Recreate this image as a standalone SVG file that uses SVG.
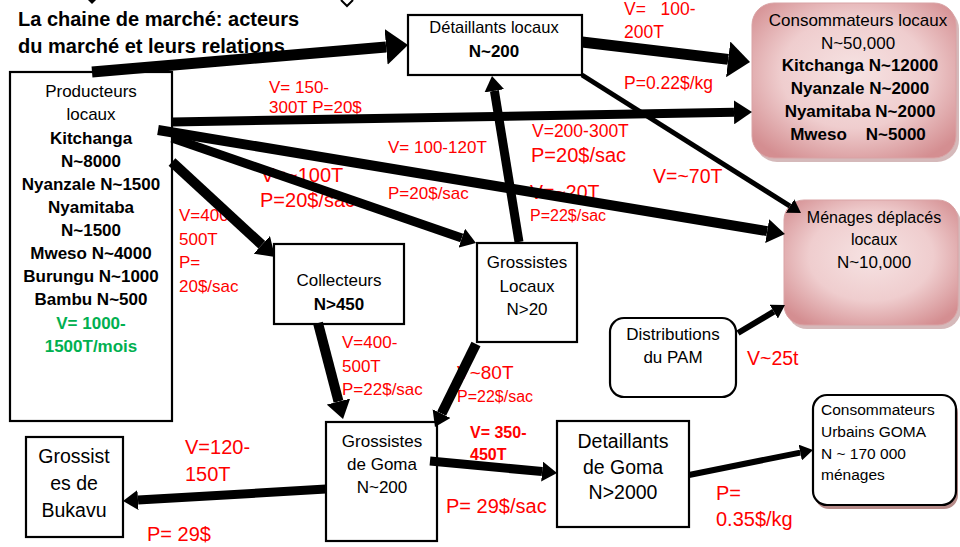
<svg xmlns="http://www.w3.org/2000/svg" width="960" height="547" viewBox="0 0 960 547">
<style>
text{font-family:"Liberation Sans",Arial,sans-serif;fill:#000}
.box{fill:#fff;stroke:#000;stroke-width:2.2}
.pink{stroke:#d9a3a5;stroke-width:1}
.shadow{fill:#b98a8c;opacity:.6}
.c{text-anchor:middle}
.b{font-weight:bold}
.r{fill:#ff0000}
.g{fill:#00b050;font-weight:bold}
.ln{fill:none;stroke:#000;stroke-linecap:butt}
</style>
<defs>
<radialGradient id="pg" cx="50%" cy="45%" r="65%">
<stop offset="0" stop-color="#f6e3e3"/>
<stop offset="0.55" stop-color="#efcdce"/>
<stop offset="1" stop-color="#d48e91"/>
</radialGradient>
<marker id="aBig" markerUnits="userSpaceOnUse" viewBox="0 -18 22 36" markerWidth="22" markerHeight="36" refX="0" refY="0" orient="auto"><path d="M0,-18L22,0L0,18Z" fill="#000"/></marker>
<marker id="aMed" markerUnits="userSpaceOnUse" viewBox="0 -12 18 24" markerWidth="18" markerHeight="24" refX="0" refY="0" orient="auto"><path d="M0,-12L18,0L0,12Z" fill="#000"/></marker>
<marker id="aSm" markerUnits="userSpaceOnUse" viewBox="0 -10 15 20" markerWidth="15" markerHeight="20" refX="0" refY="0" orient="auto"><path d="M0,-10L15,0L0,10Z" fill="#000"/></marker>
<marker id="aTiny" markerUnits="userSpaceOnUse" viewBox="0 -8 13 16" markerWidth="13" markerHeight="16" refX="0" refY="0" orient="auto"><path d="M0,-8L13,0L0,8Z" fill="#000"/></marker>
</defs>
<rect width="960" height="547" fill="#fff"/>

<!-- cut-off arrowheads at the top edge -->
<path d="M88,0L96,0L92,4Z" fill="#000"/>
<path d="M341,0L347,6L353,0" fill="none" stroke="#000" stroke-width="2"/>

<g id="title">
<text x="18" y="26" class="b" font-size="20">La chaine de marché: acteurs</text>
<text x="18" y="53" class="b" font-size="20">du marché et leurs relations</text>
</g>

<g id="producteurs">
<rect class="box" x="10" y="72" width="162" height="349"/>
<text class="c" x="91" y="97" font-size="17">Producteurs</text>
<text class="c" x="91" y="120" font-size="17">locaux</text>
<text class="c b" x="91" y="144" font-size="17">Kitchanga</text>
<text class="c b" x="91" y="167" font-size="17">N~8000</text>
<text class="c b" x="91" y="190" font-size="17">Nyanzale N~1500</text>
<text class="c b" x="91" y="213" font-size="17">Nyamitaba</text>
<text class="c b" x="91" y="236" font-size="17">N~1500</text>
<text class="c b" x="91" y="259" font-size="17">Mweso N~4000</text>
<text class="c b" x="91" y="282" font-size="17">Burungu N~1000</text>
<text class="c b" x="91" y="305" font-size="17">Bambu N~500</text>
<text class="c g" x="91" y="329" font-size="17">V= 1000-</text>
<text class="c g" x="91" y="352" font-size="17">1500T/mois</text>
</g>

<g id="detaillants-locaux">
<rect class="box" x="408" y="15" width="174" height="60"/>
<text class="c" x="494" y="33" font-size="16.5">Détaillants locaux</text>
<text class="c b" x="494" y="57" font-size="17">N~200</text>
</g>

<g id="consommateurs-locaux">
<rect class="shadow" x="755" y="7" width="204" height="155" rx="22"/>
<rect class="pink" x="752" y="3" width="204" height="155" rx="22" fill="url(#pg)"/>
<text class="c" x="858" y="26" font-size="17">Consommateurs locaux</text>
<text class="c" x="858" y="49" font-size="17">N~50,000</text>
<text class="c b" x="860" y="71" font-size="17">Kitchanga N~12000</text>
<text class="c b" x="860" y="94" font-size="17">Nyanzale N~2000</text>
<text class="c b" x="860" y="117" font-size="17">Nyamitaba N~2000</text>
<text class="c b" x="858" y="140" font-size="17" xml:space="preserve">Mweso    N~5000</text>
</g>

<g id="menages-deplaces">
<rect class="shadow" x="787" y="204" width="174" height="125" rx="20"/>
<rect class="pink" x="784" y="200" width="174" height="125" rx="20" fill="url(#pg)"/>
<text class="c" x="874" y="223" font-size="16">Ménages déplacés</text>
<text class="c" x="874" y="245" font-size="16">locaux</text>
<text class="c" x="874" y="268" font-size="17">N~10,000</text>
</g>

<g id="collecteurs">
<rect class="box" x="274" y="244" width="130" height="80"/>
<text class="c" x="339" y="286" font-size="17">Collecteurs</text>
<text class="c b" x="339" y="310" font-size="17">N&gt;450</text>
</g>

<g id="grossistes-locaux">
<rect class="box" x="477" y="243" width="100" height="99"/>
<text class="c" x="527" y="268" font-size="17">Grossistes</text>
<text class="c" x="527" y="292" font-size="17">Locaux</text>
<text class="c" x="527" y="315" font-size="17">N&gt;20</text>
</g>

<g id="distributions-pam">
<rect class="box" x="610" y="318" width="126" height="79" rx="14"/>
<text class="c" x="673" y="340" font-size="17">Distributions</text>
<text class="c" x="673" y="363" font-size="17">du PAM</text>
</g>

<g id="grossistes-goma">
<rect class="box" x="326" y="422" width="111" height="119"/>
<text class="c" x="382" y="447" font-size="17">Grossistes</text>
<text class="c" x="382" y="470" font-size="17">de Goma</text>
<text class="c" x="382" y="493" font-size="17">N~200</text>
</g>

<g id="grossistes-bukavu">
<rect class="box" x="26" y="437" width="97" height="100"/>
<text class="c" x="74" y="463" font-size="19.5">Grossist</text>
<text class="c" x="74" y="490" font-size="19.5">es de</text>
<text class="c" x="74" y="517" font-size="19.5">Bukavu</text>
</g>

<g id="detaillants-goma">
<rect class="box" x="557" y="421" width="132" height="106"/>
<text class="c" x="623" y="448" font-size="19.5">Detaillants</text>
<text class="c" x="623" y="474" font-size="19.5">de Goma</text>
<text class="c" x="623" y="499" font-size="19.5">N&gt;2000</text>
</g>

<g id="consommateurs-urbains">
<rect x="815" y="399" width="143" height="110" rx="14" fill="#b58a88"/>
<rect class="box" x="813" y="395" width="143" height="110" rx="14"/>
<text x="821" y="415" font-size="15.5">Consommateurs</text>
<text x="821" y="437" font-size="15.5">Urbains GOMA</text>
<text x="821" y="459" font-size="15.5">N ~ 170 000</text>
<text x="821" y="480" font-size="15.5">ménages</text>
</g>

<g id="labels">
<text class="r" x="624" y="15" font-size="17.5" xml:space="preserve">V=   100-</text>
<text class="r" x="624" y="38" font-size="17.5">200T</text>
<text class="r" x="624" y="89" font-size="17.5">P=0.22$/kg</text>
<text class="r" x="269" y="93" font-size="17">V= 150-</text>
<text class="r" x="269" y="113" font-size="17">300T P=20$</text>
<text class="r" x="532" y="137" font-size="17.5">V=200-300T</text>
<text class="r" x="531" y="162" font-size="20">P=20$/sac</text>
<text class="r" x="388" y="153" font-size="17">V= 100-120T</text>
<text class="r" x="388" y="199" font-size="17">P=20$/sac</text>
<text class="r" x="530" y="199" font-size="19.5">V=~20T</text>
<text class="r" x="530" y="221" font-size="16">P=22$/sac</text>
<text class="r" x="653" y="183" font-size="19.5">V=~70T</text>
<text class="r" x="261" y="182" font-size="20">V=~100T</text>
<text class="r" x="260" y="207" font-size="20">P=20$/sac</text>
<text class="r" x="179" y="221" font-size="17">V=400-</text>
<text class="r" x="179" y="245" font-size="17">500T</text>
<text class="r" x="179" y="268" font-size="17">P=</text>
<text class="r" x="179" y="292" font-size="17">20$/sac</text>
<text class="r" x="342" y="348" font-size="17">V=400-</text>
<text class="r" x="342" y="372" font-size="17">500T</text>
<text class="r" x="342" y="395" font-size="17">P=22$/sac</text>
<text class="r" x="457" y="379" font-size="19">V~80T</text>
<text class="r" x="457" y="402" font-size="16">P=22$/sac</text>
<text class="r b" x="470" y="438" font-size="16">V= 350-</text>
<text class="r b" x="470" y="460" font-size="16">450T</text>
<text class="r" x="446" y="513" font-size="20">P= 29$/sac</text>
<text class="r" x="716" y="500" font-size="20">P=</text>
<text class="r" x="716" y="526" font-size="20">0.35$/kg</text>
<text class="r" x="747" y="365" font-size="19.5">V~25t</text>
<text class="r" x="185" y="454" font-size="20">V=120-</text>
<text class="r" x="185" y="481" font-size="20">150T</text>
<text class="r" x="147" y="541" font-size="20">P= 29$</text>
</g>

<g id="connectors">
<line class="ln" x1="92" y1="72" x2="386.1" y2="46.9" stroke-width="11" marker-end="url(#aBig)"/>
<line class="ln" x1="582" y1="42" x2="728.2" y2="59.4" stroke-width="11" marker-end="url(#aBig)"/>
<line class="ln" x1="172" y1="122" x2="734" y2="112.3" stroke-width="9" marker-end="url(#aMed)"/>
<line class="ln" x1="158" y1="130" x2="767.2" y2="231.1" stroke-width="10" marker-end="url(#aMed)"/>
<line class="ln" x1="172" y1="138" x2="461.8" y2="238.1" stroke-width="9" marker-end="url(#aSm)"/>
<line class="ln" x1="172" y1="162" x2="261.8" y2="244.8" stroke-width="10" marker-end="url(#aMed)"/>
<line class="ln" x1="519" y1="242" x2="494.4" y2="90.8" stroke-width="9" marker-end="url(#aSm)"/>
<line class="ln" x1="582" y1="75" x2="790" y2="206.1" stroke-width="5" marker-end="url(#aTiny)"/>
<line class="ln" x1="318" y1="323" x2="338.5" y2="401.6" stroke-width="10" marker-end="url(#aMed)"/>
<line class="ln" x1="476" y1="344" x2="441.6" y2="413.6" stroke-width="10" marker-end="url(#aSm)"/>
<line class="ln" x1="430" y1="461" x2="542.1" y2="471.6" stroke-width="9" marker-end="url(#aSm)"/>
<line class="ln" x1="326" y1="489" x2="138" y2="500.1" stroke-width="9" marker-end="url(#aSm)"/>
<line class="ln" x1="689" y1="475" x2="800.3" y2="452.6" stroke-width="6" marker-end="url(#aTiny)"/>
<line class="ln" x1="738" y1="333" x2="773.8" y2="311.7" stroke-width="6" marker-end="url(#aTiny)"/>
</g>
</svg>
